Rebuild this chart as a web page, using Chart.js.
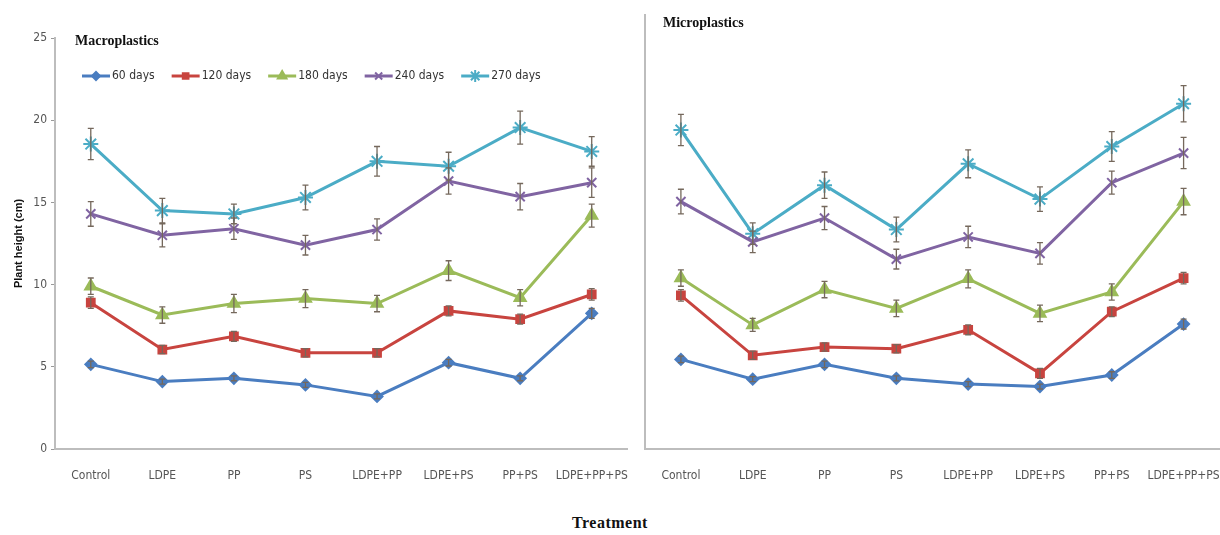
<!DOCTYPE html>
<html>
<head>
<meta charset="utf-8">
<script src="https://cdn.jsdelivr.net/npm/chart.js@4/dist/chart.umd.min.js"></script>
<style>
  body { margin: 0; background: #fff; width: 1220px; height: 535px; position: relative; overflow: hidden; }
  .box { position: absolute; top: 0; height: 490px; }
  #leftBox { left: 0; width: 637px; }
  #rightBox { left: 600px; width: 629px; }
  #xTitle { position: absolute; left: 0; width: 1220px; top: 514px; text-align: center;
    font: bold 16px "Liberation Serif", serif; color: #111; letter-spacing: 0.5px; }
</style>
</head>
<body>
<div class="box" id="leftBox"><canvas id="macroChart"></canvas></div>
<div class="box" id="rightBox"><canvas id="microChart"></canvas></div>
<div id="xTitle">Treatment</div>
<script>
const treatments = ["Control", "LDPE", "PP", "PS", "LDPE+PP", "LDPE+PS", "PP+PS", "LDPE+PP+PS"];
const seriesNames = ["60 days", "120 days", "180 days", "240 days", "270 days"];
const yTicks = [0, 5, 10, 15, 20, 25];

// Macroplastics (cm)
const macro60 = [5.15, 4.1, 4.3, 3.9, 3.2, 5.25, 4.3, 8.25];
const macro120 = [8.9, 6.05, 6.85, 5.85, 5.85, 8.4, 7.9, 9.4];
const macro180 = [9.9, 8.15, 8.85, 9.15, 8.85, 10.85, 9.2, 14.2];
const macro240 = [14.3, 13.0, 13.4, 12.4, 13.35, 16.3, 15.35, 16.2];
const macro270 = [18.55, 14.5, 14.3, 15.3, 17.5, 17.2, 19.55, 18.1];
const macroErr60 = [0.2, 0.15, 0.15, 0.15, 0.15, 0.2, 0.15, 0.3];
const macroErr120 = [0.35, 0.25, 0.3, 0.25, 0.25, 0.3, 0.3, 0.35];
const macroErr180 = [0.5, 0.5, 0.55, 0.55, 0.5, 0.6, 0.5, 0.7];
const macroErr240 = [0.75, 0.7, 0.65, 0.6, 0.65, 0.8, 0.8, 0.9];
const macroErr270 = [0.95, 0.75, 0.6, 0.75, 0.9, 0.85, 1.0, 0.9];

// Microplastics (cm)
const micro60 = [5.45, 4.25, 5.15, 4.3, 3.95, 3.8, 4.5, 7.6];
const micro120 = [9.35, 5.7, 6.2, 6.1, 7.25, 4.6, 8.35, 10.4];
const micro180 = [10.4, 7.55, 9.7, 8.55, 10.35, 8.25, 9.55, 15.05];
const micro240 = [15.05, 12.6, 14.05, 11.55, 12.9, 11.9, 16.2, 18.0];
const micro270 = [19.4, 13.1, 16.05, 13.35, 17.35, 15.2, 18.4, 21.0];
const microErr60 = [0.2, 0.15, 0.2, 0.15, 0.15, 0.15, 0.2, 0.3];
const microErr120 = [0.35, 0.25, 0.25, 0.25, 0.3, 0.3, 0.3, 0.35];
const microErr180 = [0.5, 0.4, 0.5, 0.5, 0.55, 0.5, 0.5, 0.8];
const microErr240 = [0.75, 0.65, 0.7, 0.6, 0.65, 0.65, 0.7, 0.95];
const microErr270 = [0.95, 0.65, 0.8, 0.75, 0.85, 0.75, 0.9, 1.1];

const colors = ["#4a7dc0", "#c8443f", "#9bbb59", "#8064a2", "#4bacc6"];
const markers = ["rectRot", "rect", "triangle", "crossRot", "star"];
const markerSize = [5.5, 5.5, 6.5, 6.5, 7.5];
const narrowFont = "'Liberation Sans Narrow', 'DejaVu Sans Condensed', Roboto, sans-serif";

function makeDatasets(values, errors) {
  return values.map((v, i) => ({
    label: seriesNames[i],
    data: v,
    errors: errors[i],
    borderColor: colors[i],
    backgroundColor: colors[i],
    borderWidth: 3,
    pointStyle: markers[i],
    pointRadius: markerSize[i],
    pointBorderWidth: 2,
    tension: 0,
  }));
}

// error bars from dataset.errors, placed with the chart's own y scale
const errorBars = {
  id: "errorBars",
  afterDatasetsDraw(chart) {
    const ctx = chart.ctx;
    const y = chart.scales.y;
    ctx.save();
    ctx.strokeStyle = "#75685c";
    ctx.lineWidth = 1.3;
    chart.data.datasets.forEach((ds, di) => {
      const meta = chart.getDatasetMeta(di);
      meta.data.forEach((pt, i) => {
        const e = ds.errors[i];
        const top = y.getPixelForValue(ds.data[i] + e);
        const bot = y.getPixelForValue(ds.data[i] - e);
        ctx.beginPath();
        ctx.moveTo(pt.x, top); ctx.lineTo(pt.x, bot);
        ctx.moveTo(pt.x - 3, top); ctx.lineTo(pt.x + 3, top);
        ctx.moveTo(pt.x - 3, bot); ctx.lineTo(pt.x + 3, bot);
        ctx.stroke();
      });
    });
    ctx.restore();
  }
};

// excel style legend / panel heading drawn inside the plot area
const panelText = {
  id: "panelText",
  afterDraw(chart, args, opts) {
    const ctx = chart.ctx;
    const area = chart.chartArea;
    ctx.save();
    ctx.fillStyle = "#111";
    ctx.font = "bold 14px 'Liberation Serif', serif";
    ctx.textBaseline = "middle";
    ctx.fillText(opts.heading, area.left + opts.headX, area.top + opts.headY);
    if (opts.legend) {
      let x = area.left + 27;
      const ly = area.top + 38;
      ctx.font = "12px " + narrowFont;
      chart.data.datasets.forEach((ds, i) => {
        ctx.strokeStyle = colors[i];
        ctx.fillStyle = colors[i];
        ctx.lineWidth = 3;
        ctx.beginPath();
        ctx.moveTo(x, ly); ctx.lineTo(x + 28, ly);
        ctx.stroke();
        ctx.lineWidth = 2;
        Chart.helpers.drawPoint(ctx, { pointStyle: markers[i], radius: markerSize[i] - 1.5, rotation: 0, borderWidth: 2 }, x + 14, ly);
        ctx.fillStyle = "#333";
        ctx.fillText(ds.label, x + 30, ly);
        x += 30 + ctx.measureText(ds.label).width + 17;
      });
    }
    ctx.restore();
  }
};

function makeChart(id, values, errors, opts) {
  return new Chart(document.getElementById(id), {
    type: "line",
    data: { labels: treatments, datasets: makeDatasets(values, errors) },
    plugins: [errorBars, panelText],
    options: {
      responsive: true,
      maintainAspectRatio: false,
      animation: false,
      layout: { padding: opts.padding },
      plugins: {
        legend: { display: false },
        tooltip: { enabled: false },
        panelText: opts.text,
      },
      scales: {
        x: {
          offset: true,
          grid: { display: false },
          border: { color: "#bdbdbd", width: 2 },
          ticks: { color: "#555", padding: 12, maxRotation: 0, autoSkip: false,
            font: { family: narrowFont, size: 12 } },
          afterFit: (s) => { s.height = 41; s.paddingLeft = 0; s.paddingRight = 0; },
        },
        y: {
          min: 0,
          max: opts.yMax,
          afterBuildTicks: (s) => { s.ticks = yTicks.map((v) => ({ value: v })); },
          grid: { display: opts.showTicks, drawOnChartArea: false, tickLength: 4, color: "#999" },
          border: { color: "#bdbdbd", width: 2 },
          ticks: { display: opts.showTicks, color: "#555", padding: 4,
            font: { family: narrowFont, size: 12 } },
          title: {
            display: opts.showTicks,
            text: "Plant height (cm)",
            color: "#111",
            padding: { top: 12, bottom: 0 },
            font: { family: "'Liberation Sans', sans-serif", size: 11, weight: "bold" },
          },
          afterFit: (s) => { s.width = opts.axisWidth; s.paddingTop = 0; s.paddingBottom = 0; },
        },
      },
    },
  });
}

makeChart("macroChart",
  [macro60, macro120, macro180, macro240, macro270],
  [macroErr60, macroErr120, macroErr180, macroErr240, macroErr270],
  { padding: { top: 38, right: 2, left: 0, bottom: 0 }, yMax: 25, showTicks: true, axisWidth: 55,
    text: { heading: "Macroplastics", headX: 20, headY: 3, legend: true } });

makeChart("microChart",
  [micro60, micro120, micro180, micro240, micro270],
  [microErr60, microErr120, microErr180, microErr240, microErr270],
  { padding: { top: 15, right: 0, left: 0, bottom: 0 }, yMax: 26.4, showTicks: false, axisWidth: 45,
    text: { heading: "Microplastics", headX: 18, headY: 8, legend: false } });
</script>
</body>
</html>
